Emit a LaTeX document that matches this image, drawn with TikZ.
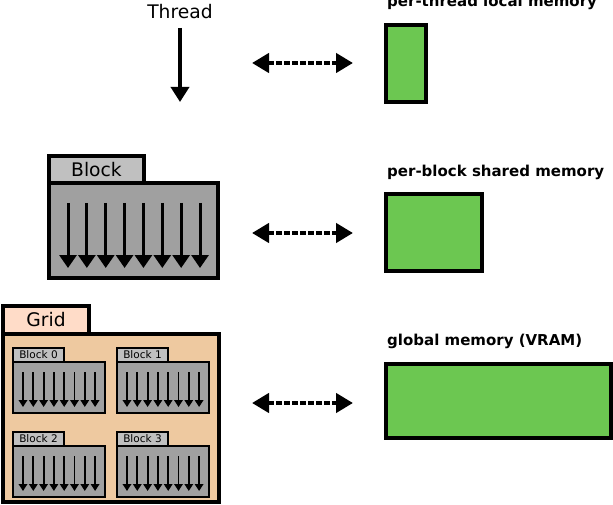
\documentclass[tikz,border=0pt]{standalone}
\usepackage{fontspec}
\setmainfont{DejaVu Sans}
\usetikzlibrary{arrows.meta}
\usepackage{xcolor}
\definecolor{memgreen}{HTML}{6CC751}
\definecolor{tabgray}{HTML}{C0C0C0}
\definecolor{bodygray}{HTML}{A0A0A0}
\definecolor{gridtab}{HTML}{FFDCC8}
\definecolor{gridbody}{HTML}{EEC9A0}

\tikzset{
  biglbl/.style={font=\fontsize{18.7}{22}\selectfont},
  smalllbl/.style={font=\fontsize{10.5}{12}\selectfont},
  memlbl/.style={font=\bfseries\fontsize{15}{18}\selectfont, anchor=base west, inner sep=0pt},
  boxbase/.style={draw, line width=3.6pt, inner sep=0pt, outer sep=0pt, anchor=north west},
  membox/.style={boxbase, fill=memgreen},
  blktab/.style={boxbase, fill=tabgray},
  blkbody/.style={boxbase, fill=bodygray},
  subtab/.style={boxbase, line width=2.2pt, fill=tabgray, minimum width=51pt, minimum height=14pt, smalllbl},
  subbody/.style={boxbase, line width=2.2pt, fill=bodygray, minimum width=92pt, minimum height=51pt},
  access/.style={line width=4.5pt, dash pattern=on 6pt off 2pt,
    {Triangle[length=17pt,width=19pt]}-{Triangle[length=17pt,width=19pt]}}
}

\begin{document}
\begin{tikzpicture}[x=1pt, y=-1pt]
  \useasboundingbox (0,0) rectangle (613,505);

  % --- thread ---
  \node[biglbl, anchor=base] (thread) at (180,19) {Thread};
  \coordinate (threadend) at (180,102);
  \draw[line width=3.5pt, -{Triangle[length=15pt,width=18pt]}] (180,28) -- (threadend);

  % --- block with its threads ---
  \node[blktab, minimum width=95pt, minimum height=27pt, biglbl] (blocktab) at (49,156) {Block};
  \node[blkbody, minimum width=169pt, minimum height=95pt] (blockbody) at (blocktab.south west) {};
  \foreach \i in {0,...,7} {
    \draw[line width=3pt, -{Triangle[length=13pt,width=17pt]}]
      ([xshift=19pt+18.86pt*\i, yshift=-20pt]blockbody.north west) --
      ([xshift=19pt+18.86pt*\i, yshift=-85pt]blockbody.north west);
  }

  % --- grid with four blocks ---
  \node[boxbase, fill=gridtab, minimum width=86pt, minimum height=28pt, biglbl] (gridtab) at (3,306) {Grid};
  \node[boxbase, fill=gridbody, minimum width=216pt, minimum height=168pt] (gridbody) at (gridtab.south west) {};
  \foreach \bx/\by/\bn in {13/348/0, 117/348/1, 13/432/2, 117/432/3} {
    \node[subtab] (subtab\bn) at (\bx,\by) {Block \bn};
    \node[subbody] (subbody\bn) at (subtab\bn.south west) {};
    \foreach \i in {0,...,7} {
      \draw[line width=1.8pt, -{Triangle[length=7pt,width=8.5pt]}]
        ([xshift=10pt+10.3pt*\i, yshift=-10pt]subbody\bn.north west) --
        ([xshift=10pt+10.3pt*\i, yshift=-45pt]subbody\bn.north west);
    }
  }

  % --- memories ---
  \node[memlbl] (locallbl) at (387,7) {per-thread local memory};
  \node[membox, minimum width=40pt, minimum height=77pt] (localmem) at (386,25) {};

  \node[memlbl] (sharedlbl) at (387,177) {per-block shared memory};
  \node[membox, minimum width=96pt, minimum height=77pt] (sharedmem) at (386,194) {};

  \node[memlbl] (globallbl) at (387,345) {global memory (VRAM)};
  \node[membox, minimum width=225pt, minimum height=74pt] (globalmem) at (386,364) {};

  % --- access arrows ---
  \foreach \n/\y in {local/63, shared/233, global/403} {
    \coordinate (\n l) at (252,\y);
    \coordinate (\n r) at (353,\y);
    \draw[access] (\n l) -- (\n r);
  }
\end{tikzpicture}
\end{document}
